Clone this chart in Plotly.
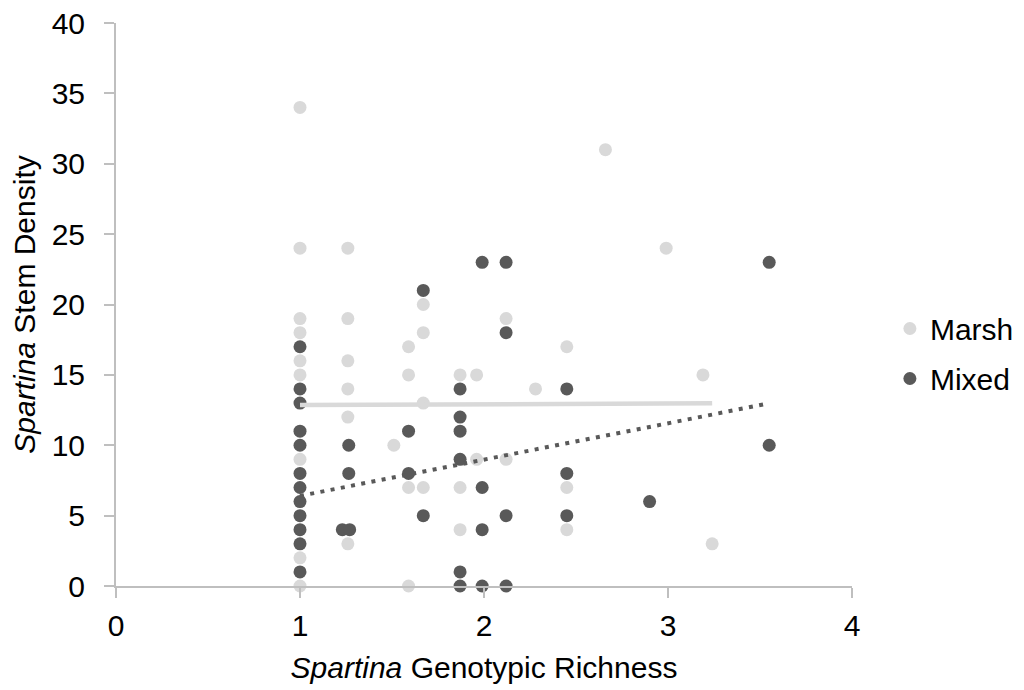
import plotly.graph_objects as go

# Marsh series (light grey)
marsh_x = [1, 1, 1, 1, 1, 1, 1, 1, 1,
           1.26, 1.26, 1.26, 1.26, 1.26, 1.26,
           1.51,
           1.59, 1.59, 1.59, 1.59,
           1.67, 1.67, 1.67, 1.67,
           1.87, 1.87, 1.87,
           1.96, 1.96,
           2.12, 2.12,
           2.28,
           2.45, 2.45, 2.45,
           2.66, 2.99, 3.19, 3.24]
marsh_y = [34, 24, 19, 18, 16, 15, 9, 2, 0,
           24, 19, 16, 14, 12, 3,
           10,
           17, 15, 7, 0,
           20, 18, 13, 7,
           15, 7, 4,
           15, 9,
           19, 9,
           14,
           17, 7, 4,
           31, 24, 15, 3]

# Mixed series (dark grey)
mixed_x = [1, 1, 1, 1, 1, 1, 1, 1, 1, 1, 1, 1,
           1.23, 1.27, 1.265, 1.265,
           1.59, 1.59,
           1.67, 1.67,
           1.87, 1.87, 1.87, 1.87, 1.87, 1.87,
           1.99, 1.99, 1.99, 1.99,
           2.12, 2.12, 2.12, 2.12,
           2.45, 2.45, 2.45,
           2.9,
           3.55, 3.55]
mixed_y = [17, 14, 13, 11, 10, 8, 7, 6, 5, 4, 3, 1,
           4, 4, 10, 8,
           11, 8,
           21, 5,
           14, 12, 11, 9, 1, 0,
           23, 7, 4, 0,
           23, 18, 5, 0,
           14, 8, 5,
           6,
           23, 10]

# Linear trendlines (end points)
marsh_trend_x = [1, 3.24]
marsh_trend_y = [12.86, 12.98]
mixed_trend_x = [1, 3.55]
mixed_trend_y = [6.4, 12.98]

x_ticks = [0, 1, 2, 3, 4]
y_ticks = [0, 5, 10, 15, 20, 25, 30, 35, 40]

FONT = "Liberation Sans, Arial, sans-serif"
MARSH_C = "#D9D9D9"
MIXED_C = "#595959"
AXIS_C = "#BFBFBF"

fig = go.Figure()
fig.add_trace(go.Scatter(x=marsh_x, y=marsh_y, mode="markers", name="Marsh",
                         marker=dict(color=MARSH_C, size=13, line=dict(width=0)),
                         cliponaxis=False, legendgroup="a"))
fig.add_trace(go.Scatter(x=mixed_x, y=mixed_y, mode="markers", name="Mixed",
                         marker=dict(color=MIXED_C, size=13, line=dict(width=0)),
                         cliponaxis=False, legendgroup="b"))
fig.add_trace(go.Scatter(x=marsh_trend_x, y=marsh_trend_y, mode="lines",
                         line=dict(color=MARSH_C, width=4.5), showlegend=False))
fig.add_trace(go.Scatter(x=mixed_trend_x, y=mixed_trend_y, mode="lines",
                         line=dict(color=MIXED_C, width=4, dash="4px,6.4px"),
                         showlegend=False))

fig.update_layout(
    width=1016, height=682,
    margin=dict(l=108, r=172, t=15, b=104, autoexpand=False),
    paper_bgcolor="white", plot_bgcolor="white",
    font=dict(family=FONT, size=30, color="black"),
    showlegend=True,
    legend=dict(xref="container", yref="container", x=0.868, y=0.4934,
                xanchor="left", yanchor="middle",
                font=dict(size=30), tracegroupgap=8, traceorder="grouped",
                bgcolor="rgba(0,0,0,0)", borderwidth=0),
    xaxis=dict(range=[0, 4], tickvals=x_ticks, ticktext=[str(v) for v in x_ticks],
               automargin=False,
               showgrid=False, zeroline=False, showline=True, linecolor=AXIS_C,
               linewidth=2, ticks="outside", ticklen=10, tickcolor=AXIS_C, tickwidth=2,
               ticklabelstandoff=2, ticklabeloverflow="allow",
               title=dict(text="<i>Spartina</i> Genotypic Richness", standoff=16,
                          font=dict(size=30))),
    yaxis=dict(range=[0, 40], tickvals=y_ticks, ticktext=[str(v) for v in y_ticks],
               automargin=False,
               showgrid=False, zeroline=False, showline=True, linecolor=AXIS_C,
               linewidth=2, ticks="outside", ticklen=10, tickcolor=AXIS_C, tickwidth=2,
               ticklabelstandoff=13, ticklabeloverflow="allow",
               title=dict(text="<i>Spartina</i> Stem Density", standoff=16,
                          font=dict(size=30))),
)

fig.write_html("out.html")
